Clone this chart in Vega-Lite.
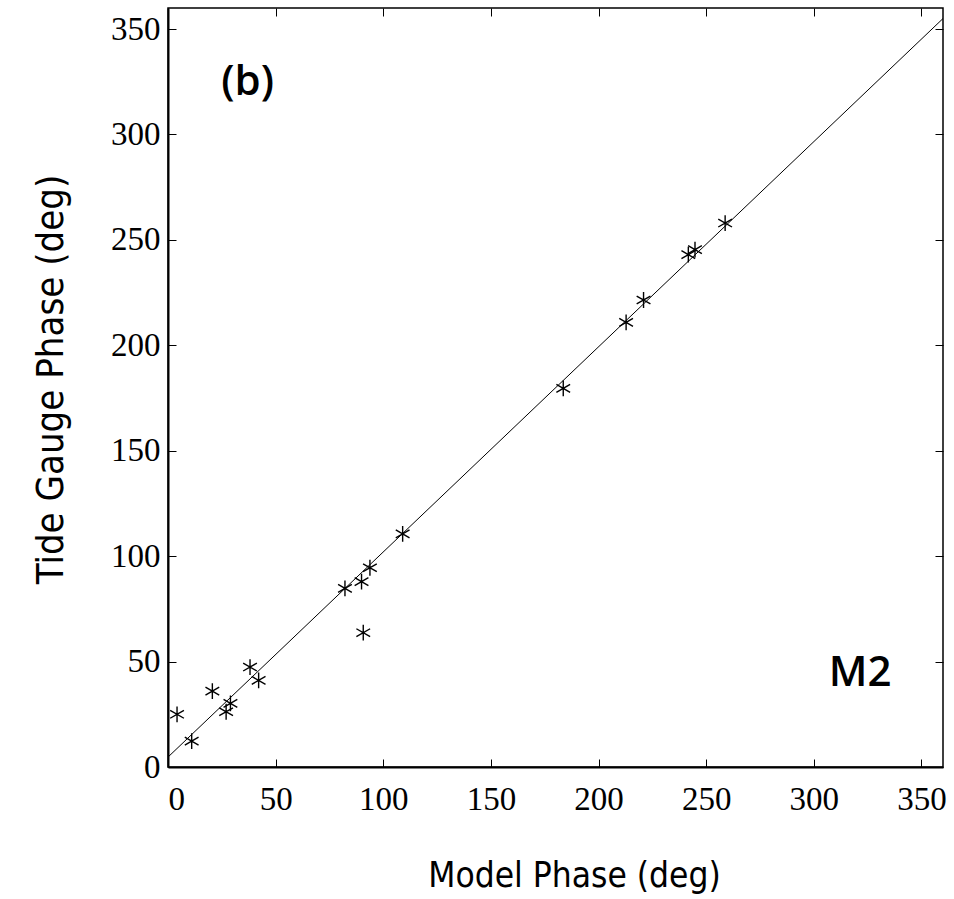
{
  "$schema": "https://vega.github.io/schema/vega-lite/v6.json",
  "width": 775,
  "height": 759,
  "autosize": "none",
  "padding": {"left": 168, "top": 8, "right": 11, "bottom": 132},
  "background": "white",
  "config": {
    "view": {"stroke": "black", "strokeWidth": 1.5},
    "axis": {
      "grid": false,
      "domainColor": "black",
      "domainWidth": 2,
      "tickColor": "black",
      "tickWidth": 1,
      "tickSize": -8,
      "labelFont": "Liberation Serif",
      "labelFontSize": 33,
      "labelColor": "black",
      "titleColor": "black",
      "titleFont": "Liberation Sans Narrow, DejaVu Sans Condensed, sans-serif",
      "titleFontSize": 40,
      "titleFontWeight": "normal"
    }
  },
  "datasets": {
    "pts": [
      {"model": 4.2, "gauge": 25},
      {"model": 11, "gauge": 12.3},
      {"model": 20.6, "gauge": 36},
      {"model": 27, "gauge": 26.2},
      {"model": 29, "gauge": 30.2},
      {"model": 38.1, "gauge": 47.4},
      {"model": 42.1, "gauge": 41.1},
      {"model": 82.2, "gauge": 84.7},
      {"model": 89.9, "gauge": 87.9},
      {"model": 90.7, "gauge": 63.7},
      {"model": 93.8, "gauge": 94.5},
      {"model": 109, "gauge": 110.6},
      {"model": 183.6, "gauge": 179.6},
      {"model": 212.8, "gauge": 210.9},
      {"model": 220.9, "gauge": 221.5},
      {"model": 241.7, "gauge": 243},
      {"model": 244.8, "gauge": 245.4},
      {"model": 258.8, "gauge": 258}
    ],
    "fit": [
      {"model": 0, "gauge": 4.7},
      {"model": 360, "gauge": 355}
    ],
    "labels": [
      {"model": 37, "gauge": 325, "text": "(b)"},
      {"model": 321.5, "gauge": 44.8, "text": "M2"}
    ]
  },
  "layer": [
    {
      "data": {"name": "fit"},
      "mark": {"type": "line", "color": "black", "strokeWidth": 1, "clip": true},
      "encoding": {
        "x": {"field": "model", "type": "quantitative", "scale": {"domain": [0, 360], "nice": false, "zero": false},
              "axis": {"orient": "top", "labels": false, "title": null, "values": [0, 50, 100, 150, 200, 250, 300, 350], "domain": false}},
        "y": {"field": "gauge", "type": "quantitative", "scale": {"domain": [0, 360], "nice": false, "zero": false},
              "axis": {"orient": "right", "labels": false, "title": null, "values": [0, 50, 100, 150, 200, 250, 300, 350], "domain": false}}
      }
    },
    {
      "data": {"name": "pts"},
      "mark": {"type": "point", "shape": "M0,-1L0,1M-0.87,-0.5L0.87,0.5M-0.87,0.5L0.87,-0.5", "filled": false, "stroke": "black", "strokeWidth": 1.4, "size": 250, "opacity": 1},
      "encoding": {
        "x": {"field": "model", "type": "quantitative", "scale": {"domain": [0, 360], "nice": false, "zero": false},
              "axis": {"orient": "bottom", "title": "Model Phase (deg)", "values": [0, 50, 100, 150, 200, 250, 300, 350],
                       "labelPadding": 24, "labelBaseline": "top", "titleFontSize": 35, "titleX": 406, "titleY": 119, "titleBaseline": "alphabetic", "titleAnchor": null}},
        "y": {"field": "gauge", "type": "quantitative", "scale": {"domain": [0, 360], "nice": false, "zero": false},
              "axis": {"orient": "left", "title": "Tide Gauge Phase (deg)", "values": [0, 50, 100, 150, 200, 250, 300, 350],
                       "labelPadding": 16, "titleFontSize": 38, "titleX": -106, "titleY": 371, "titleBaseline": "alphabetic", "titleAngle": -90}}
      }
    },
    {
      "data": {"name": "labels"},
      "mark": {"type": "text", "font": "Open Sans", "fontSize": 42, "fontWeight": 600, "color": "black", "align": "center", "baseline": "middle"},
      "encoding": {
        "x": {"field": "model", "type": "quantitative", "axis": null},
        "y": {"field": "gauge", "type": "quantitative", "axis": null},
        "text": {"field": "text"}
      }
    }
  ],
  "resolve": {"axis": {"x": "independent", "y": "independent"}}
}
